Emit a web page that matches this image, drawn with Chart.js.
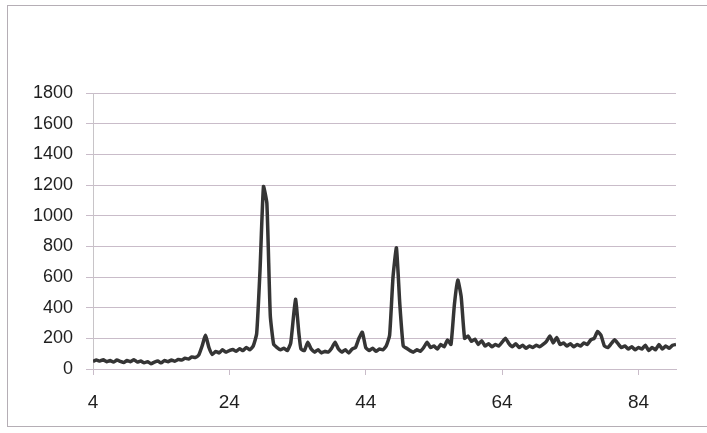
<!DOCTYPE html>
<html>
<head>
<meta charset="utf-8">
<script src="https://cdn.jsdelivr.net/npm/chart.js@4/dist/chart.umd.min.js"></script>
<style>
  html, body { margin: 0; padding: 0; background: #fff; }
  #wrap { position: relative; width: 707px; height: 433px; }
  #frame {
    position: absolute; left: 7px; top: 5px; width: 710px; height: 422px;
    border: 1px solid #b5aeb5; box-sizing: border-box;
  }
  canvas { position: absolute; left: 0; top: 0; }
</style>
</head>
<body>
<div id="wrap">
  <div id="frame"></div>
  <canvas id="xrdChart" width="707" height="433"></canvas>
</div>
<script>
// 2-theta angles (deg) and intensity
const angles = [
  4, 4.5, 5, 5.5, 6, 6.5, 7, 7.5, 8, 8.5, 9, 9.5, 10, 10.5, 11, 11.5, 12, 12.5, 13, 13.5,
  14, 14.5, 15, 15.5, 16, 16.5, 17, 17.5, 18, 18.5, 19, 19.5, 20, 20.5, 21, 21.5, 22, 22.5, 23, 23.5,
  24, 24.5, 25, 25.5, 26, 26.5, 27, 27.5, 28, 28.5, 29, 29.5, 30, 30.5, 31, 31.5, 32, 32.5, 33, 33.7,
  34.2, 34.5, 35, 35.5, 36, 36.5, 37, 37.5, 38, 38.5, 39, 39.5, 40, 40.5, 41, 41.5, 42, 42.5, 43, 43.5,
  44, 44.5, 45, 45.5, 46, 46.5, 47, 47.5, 48, 48.5, 49, 49.5, 50, 50.5, 51, 51.5, 52, 52.5, 53, 53.5,
  54, 54.5, 55, 55.5, 56, 56.5, 57, 57.5, 58, 58.5, 59, 59.5, 60, 60.5, 61, 61.5, 62, 62.5, 63, 63.5,
  64, 64.5, 65, 65.5, 66, 66.5, 67, 67.5, 68, 68.5, 69, 69.5, 70, 70.5, 71, 71.5, 72, 72.5, 73, 73.5,
  74, 74.5, 75, 75.5, 76, 76.5, 77, 77.5, 78, 78.5, 79, 79.5, 80, 80.5, 81, 81.5, 82, 82.5, 83, 83.5,
  84, 84.5, 85, 85.5, 86, 86.5, 87, 87.5, 88, 88.5, 89, 89.5
];
const counts = [
  50, 58, 52, 60, 48, 55, 45, 58, 50, 42, 55, 48, 60, 45, 52, 40, 48, 35, 45, 52,
  40, 55, 48, 58, 50, 62, 58, 70, 65, 78, 75, 90, 150, 220, 140, 95, 115, 105, 125, 110,
  120, 128, 115, 132, 120, 140, 125, 150, 230, 650, 1190, 1080, 350, 160, 140, 125, 135, 120, 170, 455,
  230, 130, 120, 175, 130, 110, 125, 105, 115, 110, 135, 175, 130, 110, 125, 105, 130, 140, 200, 240,
  140, 120, 135, 115, 130, 125, 150, 220, 600, 790, 420, 150, 135, 120, 110, 125, 115, 140, 175, 140,
  150, 130, 160, 145, 190, 160, 420, 580, 470, 200, 215, 180, 195, 160, 185, 150, 165, 145, 160, 150,
  175, 200, 165, 145, 165, 140, 155, 135, 150, 140, 155, 145, 160, 180, 215, 170, 205, 160, 170, 150,
  165, 145, 160, 150, 170, 160, 190, 200, 245, 220, 150, 140, 165, 190, 165, 140, 150, 130, 145, 125,
  140, 130, 155, 120, 140, 125, 160, 130, 150, 135, 155, 160
];
const xTicks = [4, 24, 44, 64, 84];
const yTicks = [0, 200, 400, 600, 800, 1000, 1200, 1400, 1600, 1800];

const gridColor = "#c9bcc9";
const textColor = "#1f1f1f";

const points = angles.map((a, i) => ({ x: a, y: counts[i] }));

const ctx = document.getElementById("xrdChart").getContext("2d");

new Chart(ctx, {
  type: "line",
  data: {
    datasets: [
      {
        data: points,
        borderColor: "#353535",
        borderWidth: 3.5,
        pointRadius: 0,
        tension: 0.15,
        fill: false,
      },
    ],
  },
  options: {
    responsive: false,
    animation: false,
    layout: { padding: { top: 93, right: 31, left: 0, bottom: 0 } },
    plugins: {
      legend: { display: false },
      tooltip: { enabled: false },
    },
    scales: {
      x: {
        type: "linear",
        min: 4,
        max: 89.5,
        afterBuildTicks: (scale) => {
          scale.ticks = xTicks.map((v) => ({ value: v }));
        },
        afterFit: (scale) => {
          scale.height = 64;
        },
        grid: {
          display: true,
          drawOnChartArea: false,
          drawTicks: true,
          tickLength: 6,
          color: gridColor,
        },
        border: { display: true, color: gridColor, width: 1 },
        ticks: {
          color: textColor,
          padding: 16,
          maxRotation: 0,
          callback: (v) => String(v),
          font: { family: "Liberation Sans", size: 19 },
        },
      },
      y: {
        min: 0,
        max: 1800,
        afterBuildTicks: (scale) => {
          scale.ticks = yTicks.map((v) => ({ value: v }));
        },
        afterFit: (scale) => {
          scale.width = 93;
        },
        grid: {
          color: gridColor,
          drawTicks: true,
          tickLength: 7,
        },
        border: { display: true, color: "#c8c4c8", width: 1 },
        ticks: {
          color: textColor,
          padding: 13,
          callback: (v) => String(v),
          font: { family: "Liberation Sans", size: 18 },
        },
      },
    },
  },
});
</script>
</body>
</html>
